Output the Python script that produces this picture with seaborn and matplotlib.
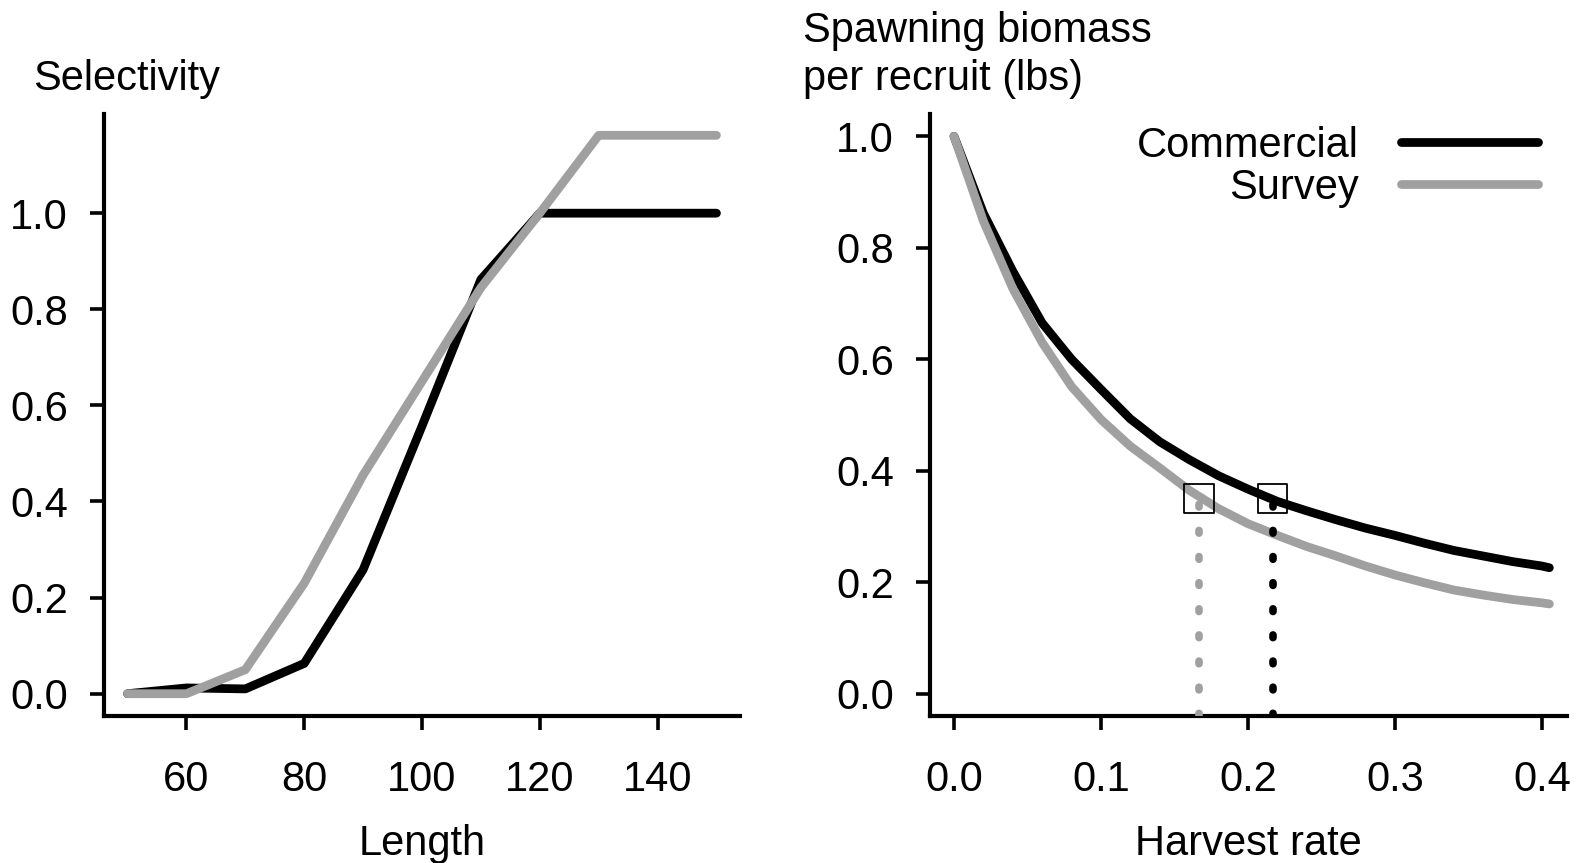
import numpy as np
import pandas as pd
import matplotlib
matplotlib.use('Agg')
import matplotlib.pyplot as plt
import seaborn as sns

sns.set_theme(style='ticks')
plt.rcParams['font.family'] = ['Liberation Sans', 'DejaVu Sans']
plt.rcParams['text.color'] = 'black'
plt.rcParams['axes.labelcolor'] = 'black'
plt.rcParams['xtick.color'] = 'black'
plt.rcParams['ytick.color'] = 'black'

# selectivity at length (left panel)
length = [50, 60, 70, 80, 90, 100, 110, 120, 130, 140, 150]
sel_commercial = [0.0, 0.012, 0.010, 0.063, 0.258, 0.557, 0.862, 1.0, 1.0, 1.0, 1.0]
sel_survey = [0.0, 0.0, 0.050, 0.230, 0.455, 0.650, 0.845, 1.0, 1.162, 1.162, 1.162]

# spawning biomass per recruit vs harvest rate (right panel)
harvest_rate = [0.00, 0.02, 0.04, 0.06, 0.08, 0.10, 0.12, 0.14, 0.16, 0.18, 0.20,
                0.22, 0.24, 0.26, 0.28, 0.30, 0.32, 0.34, 0.36, 0.38, 0.40, 0.405]
sbpr_commercial = [1.000, 0.862, 0.758, 0.665, 0.600, 0.546, 0.493, 0.452, 0.420, 0.391, 0.367,
                   0.345, 0.328, 0.312, 0.297, 0.284, 0.270, 0.257, 0.247, 0.237, 0.229, 0.226]
sbpr_survey = [1.000, 0.848, 0.727, 0.630, 0.551, 0.492, 0.444, 0.405, 0.365, 0.332, 0.305,
               0.284, 0.264, 0.247, 0.229, 0.213, 0.199, 0.186, 0.177, 0.169, 0.163, 0.161]

# harvest rate that gives 35% SBPR
ref_rate = [0.2168, 0.1667]   # commercial, survey
ref_sbpr = [0.35, 0.35]

fleets = ['Commercial', 'Survey']
fleet_colors = {'Commercial': 'black', 'Survey': '#a0a0a0'}

sel_df = pd.DataFrame({'length': length * 2,
                       'sel': sel_commercial + sel_survey,
                       'fleet': ['Commercial'] * len(length) + ['Survey'] * len(length)})
sbpr_df = pd.DataFrame({'rate': harvest_rate * 2,
                        'sbpr': sbpr_commercial + sbpr_survey,
                        'fleet': ['Commercial'] * len(harvest_rate) + ['Survey'] * len(harvest_rate)})
ref_df = pd.DataFrame({'rate': ref_rate, 'sbpr': ref_sbpr, 'fleet': fleets})

W, H = 1578, 863
fig = plt.figure(figsize=(W / 100, H / 100), dpi=100)
ax1 = fig.add_axes([104 / W, 1 - 716 / H, 636 / W, 602 / H])
ax2 = fig.add_axes([930 / W, 1 - 716 / H, 637 / W, 602 / H])

line_kw = dict(linewidth=6.3, solid_capstyle='round', solid_joinstyle='round')

sns.lineplot(data=sel_df, x='length', y='sel', hue='fleet', hue_order=fleets,
             palette=fleet_colors, estimator=None, sort=False, legend=False, ax=ax1, **line_kw)
sns.lineplot(data=sbpr_df, x='rate', y='sbpr', hue='fleet', hue_order=fleets,
             palette=fleet_colors, estimator=None, sort=False, legend=False, ax=ax2, **line_kw)

# dotted drop lines and open squares at the 35% point
ax2.set_ylim(-0.04, 1.04)
ax2.vlines(ref_df['rate'], ymin=-0.04, ymax=ref_df['sbpr'],
           colors=[fleet_colors[f] for f in ref_df['fleet']],
           linestyles=[(0, (0.35, 3.07))], linewidth=5.5, capstyle='round', zorder=4)
sns.scatterplot(data=ref_df, x='rate', y='sbpr', marker='s', s=440,
                facecolors='none', edgecolors='black', linewidth=1.3,
                legend=False, ax=ax2, zorder=5)

ax1.set_xlim(46, 154)
ax1.set_ylim(-0.0464, 1.2064)
ax1.set_xticks([60, 80, 100, 120, 140])
ax1.set_yticks([0.0, 0.2, 0.4, 0.6, 0.8, 1.0])

ax2.set_xlim(-0.0163, 0.4170)
ax2.set_xticks([0.0, 0.1, 0.2, 0.3, 0.4])
ax2.set_yticks([0.0, 0.2, 0.4, 0.6, 0.8, 1.0])

for ax in (ax1, ax2):
    sns.despine(ax=ax)
    for side in ('left', 'bottom'):
        ax.spines[side].set_linewidth(3)
        ax.spines[side].set_color('black')
    ax.tick_params(axis='both', length=10, width=2.6, color='black',
                   labelsize=30, labelcolor='black', direction='out')
    ax.tick_params(axis='x', pad=22)
    ax.tick_params(axis='y', pad=16)
    ax.yaxis.set_major_formatter(matplotlib.ticker.FormatStrFormatter('%.1f'))
    ax.set_ylabel('')
    ax.set_facecolor('white')

ax2.xaxis.set_major_formatter(matplotlib.ticker.FormatStrFormatter('%.1f'))

ax1.set_xlabel('Length', fontsize=30, labelpad=17, color='black')
ax2.set_xlabel('Harvest rate', fontsize=30, labelpad=17, color='black')

fig.text(33 / W, 1 - 90 / H, 'Selectivity', fontsize=30, va='baseline', ha='left')
fig.text(803 / W, 1 - 42 / H, 'Spawning biomass', fontsize=30, va='baseline', ha='left')
fig.text(803 / W, 1 - 90 / H, 'per recruit (lbs)', fontsize=30, va='baseline', ha='left')

ax2.legend(handles=ax2.lines[:2], labels=fleets, loc='upper right',
           bbox_to_anchor=(1538 / W, 1 - 126 / H), bbox_transform=fig.transFigure,
           frameon=False, markerfirst=False, fontsize=30, handlelength=3.3,
           handletextpad=1.0, labelspacing=0.05, borderpad=0, borderaxespad=0)

fig.savefig('out.png', dpi=100, facecolor='white')
